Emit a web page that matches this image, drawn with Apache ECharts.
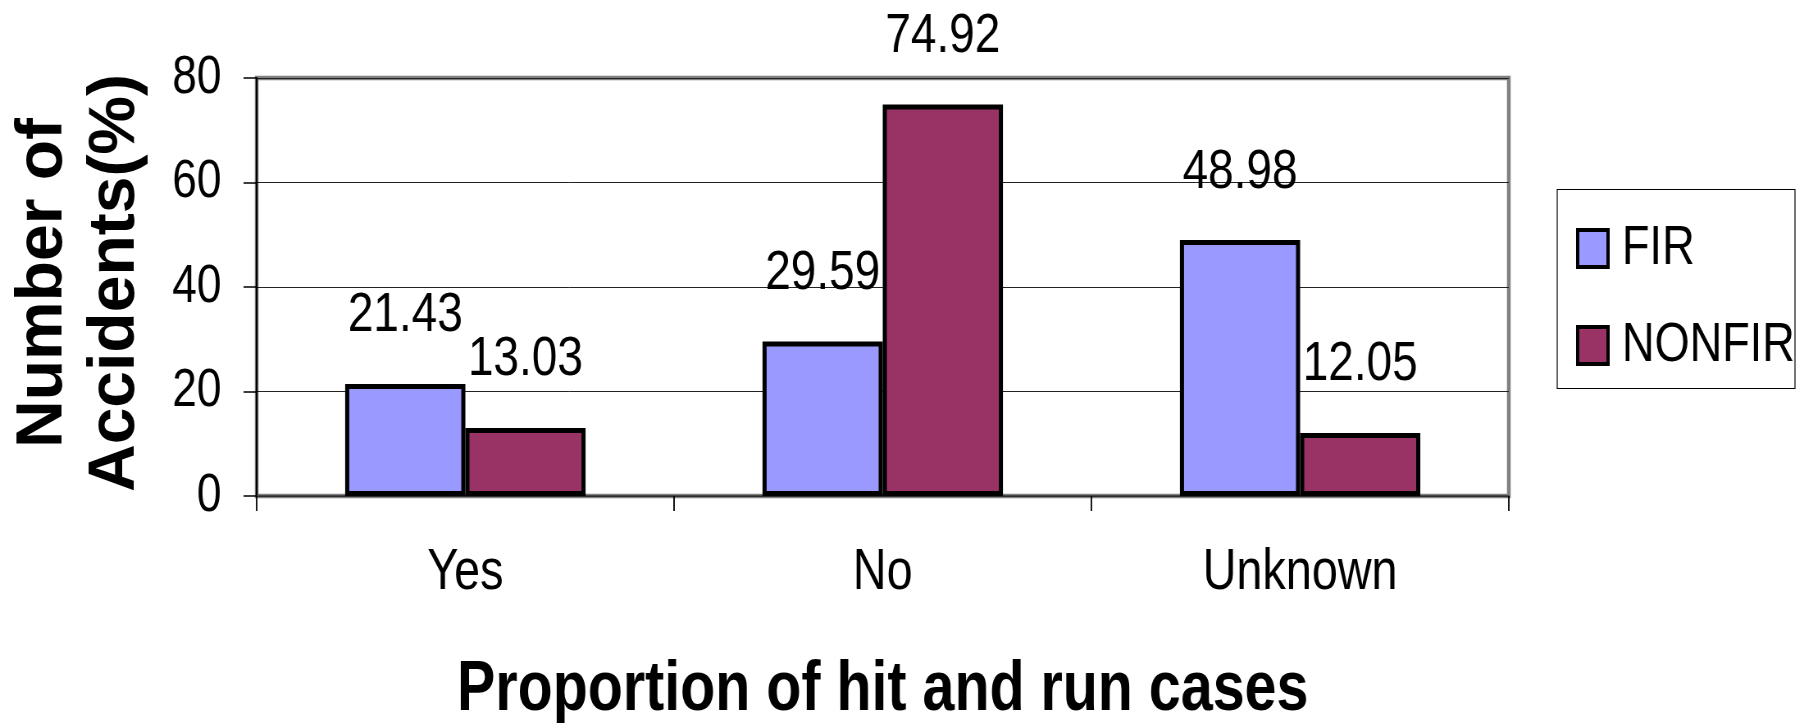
<!DOCTYPE html>
<html>
<head>
<meta charset="utf-8">
<script src="https://cdn.jsdelivr.net/npm/echarts@6/dist/echarts.min.js"></script>
<style>
  html, body { margin: 0; padding: 0; background: #fff; overflow: hidden; }
  #wrap { position: relative; width: 1802px; height: 723px; overflow: hidden; }
  /* the chart is laid out wide and squeezed horizontally for a condensed look */
  #chart { position: absolute; left: 0; top: 0; width: 2198px; height: 723px; transform: scaleX(0.82); transform-origin: 0 0; }
</style>
</head>
<body>
<div id="wrap"><div id="chart"></div></div>
<script>
// Hit-and-run share of accidents, FIR vs non-FIR cases
const categories = ['Yes', 'No', 'Unknown'];
const firValues = [21.43, 29.59, 48.98];
const nonFirValues = [13.03, 74.92, 12.05];
const seriesNames = ['FIR', 'NONFIR'];
const xTitle = 'Proportion of hit and run cases';
const yTitle = 'Number of\nAccidents(%)';

const SQUEEZE = 0.82;
const font = '"Liberation Sans", Arial, sans-serif';

const chart = echarts.init(document.getElementById('chart'), null, { renderer: 'canvas' });

const valueLabel = {
  show: true,
  position: 'top',
  distance: 40,
  fontFamily: font,
  fontSize: 56,
  lineHeight: 56,
  color: '#000',
  formatter: p => p.value.toFixed(2)
};

chart.setOption({
  animation: false,
  backgroundColor: '#fff',
  grid: {
    left: 313, right: 358, top: 78, bottom: 227,
    outerBoundsMode: 'none',
    containLabel: false,
    show: true,
    borderColor: '#808080',
    borderWidth: 4.5,
    backgroundColor: 'transparent'
  },
  legend: {
    orient: 'vertical',
    left: 1917,
    top: 216,
    itemWidth: 37,
    itemHeight: 37,
    itemGap: 42,
    icon: 'rect',
    itemStyle: { borderWidth: 4, borderColor: '#000' },
    textStyle: { fontFamily: font, fontSize: 55, lineHeight: 55, color: '#000', padding: [0, 0, 0, 12] },
    data: seriesNames
  },
  graphic: [
    {
      type: 'rect',
      shape: { x: 1899, y: 189.5, width: 290, height: 199 },
      style: { fill: 'none', stroke: '#000', lineWidth: 1.2 },
      z: 1
    },
    {
      type: 'text',
      x: 97,
      y: 283,
      rotation: Math.PI / 2,
      scaleY: 1 / SQUEEZE,
      style: {
        text: yTitle,
        font: 'bold 66px ' + font,
        lineHeight: 72,
        fill: '#000',
        textAlign: 'center',
        textVerticalAlign: 'middle'
      }
    }
  ],
  xAxis: {
    type: 'category',
    data: categories,
    axisLine: { lineStyle: { color: '#333', width: 1.5 } },
    axisTick: { show: true, length: 15, lineStyle: { color: '#000', width: 1.8 } },
    axisLabel: { fontFamily: font, fontSize: 57, color: '#000', margin: 49 },
    name: xTitle,
    nameLocation: 'middle',
    nameGap: 160,
    nameTextStyle: { fontFamily: font, fontWeight: 'bold', fontSize: 70, color: '#000' }
  },
  yAxis: {
    type: 'value',
    min: 0,
    max: 80,
    interval: 20,
    axisLine: { show: true, lineStyle: { color: '#000', width: 2.2 } },
    axisTick: { show: true, length: 16, lineStyle: { color: '#000', width: 1.5 } },
    axisLabel: { fontFamily: font, fontSize: 54, color: '#000', margin: 43 },
    splitLine: { show: true, lineStyle: { color: '#222', width: 1 } }
  },
  series: [
    {
      name: seriesNames[0],
      type: 'bar',
      data: firValues,
      barWidth: '28.8%',
      barGap: '0%',
      itemStyle: { color: '#9999FF', borderColor: '#000', borderWidth: 5 },
      label: valueLabel
    },
    {
      name: seriesNames[1],
      type: 'bar',
      data: nonFirValues,
      barWidth: '28.8%',
      barGap: '0%',
      itemStyle: { color: '#993366', borderColor: '#000', borderWidth: 5 },
      label: valueLabel
    }
  ]
});
</script>
</body>
</html>
